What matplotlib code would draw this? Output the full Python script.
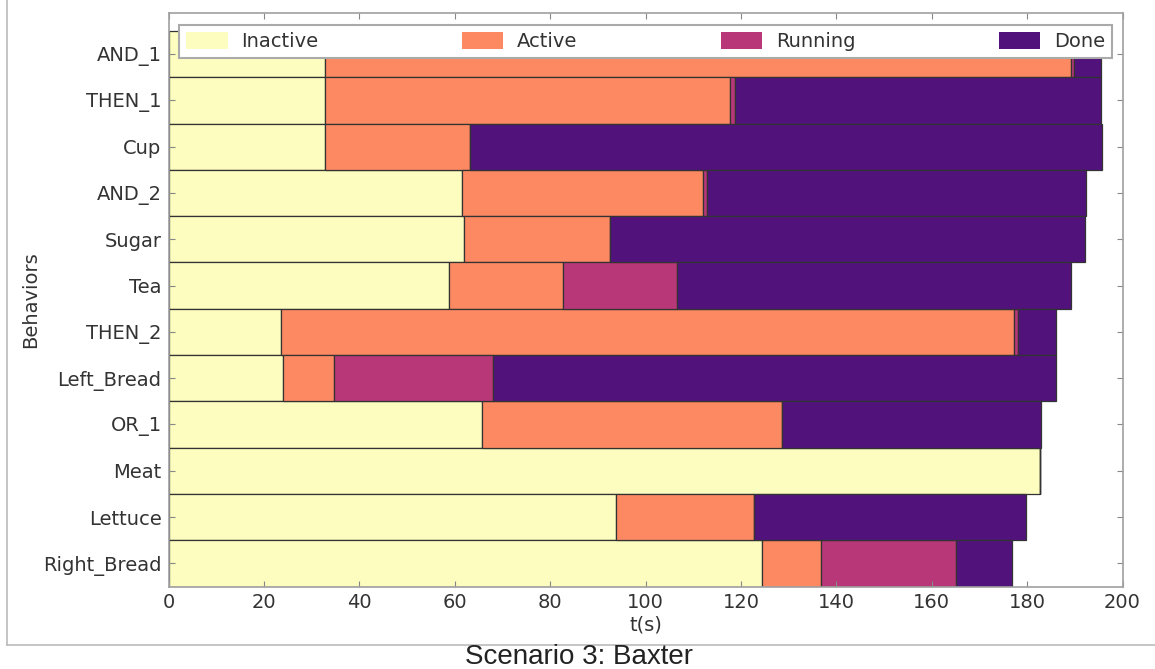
import matplotlib
matplotlib.use("Agg")
import matplotlib.pyplot as plt
from matplotlib.lines import Line2D
import numpy as np

behaviors = ["AND_1", "THEN_1", "Cup", "AND_2", "Sugar", "Tea", "THEN_2",
             "Left_Bread", "OR_1", "Meat", "Lettuce", "Right_Bread"]
states = ["Inactive", "Active", "Running", "Done"]
inactive = [32.8, 32.8, 32.8, 61.5, 61.9, 58.8, 23.5, 24.1, 65.8, 182.8, 93.8, 124.5]
active = [156.4, 84.9, 30.5, 50.6, 30.7, 24.0, 153.8, 10.6, 62.9, 0.0, 29.0, 12.3]
running = [0.6, 1.0, 0.0, 0.7, 0.0, 23.7, 0.7, 33.4, 0.0, 0.0, 0.0, 28.3]
done = [5.6, 76.7, 132.3, 79.5, 99.6, 82.7, 8.0, 117.9, 54.3, 0.0, 56.9, 11.7]
colors = ["#fcfdbf", "#fc8961", "#b73779", "#51127c"]
xticks = [0, 20, 40, 60, 80, 100, 120, 140, 160, 180, 200]

fig = plt.figure(figsize=(11.55, 6.69), dpi=100)
ax = fig.add_axes([168.5 / 1155, 1 - 586.5 / 669, 954 / 1155, 574 / 669])

n = len(behaviors)
ypos = np.arange(n)[::-1]
left = np.zeros(n)
for name, vals, col in zip(states, [inactive, active, running, done], colors):
    vals = np.array(vals)
    ax.barh(ypos, vals, left=left, height=1.0, color=col, edgecolor="#333333",
            linewidth=0.9, label=name)
    left = left + vals

ax.set_xlim(0, 200)
ax.set_ylim(-0.5, 11.9)
ax.set_xticks(xticks)
ax.set_yticks(ypos)
ax.set_yticklabels(behaviors)
ax.tick_params(direction="in", length=4, width=0.8, color="#888888",
               labelsize=14, labelcolor="#333333", top=True, right=True, pad=5)
for sp in ax.spines.values():
    sp.set_color("#a0a0a0")
    sp.set_linewidth(1.2)
ax.set_xlabel("t(s)", fontsize=14, color="#333333", labelpad=2)
ax.set_ylabel("Behaviors", fontsize=14, color="#333333", labelpad=2)

leg = ax.legend(loc="lower left", bbox_to_anchor=(0.011, 0.9207, 0.978, 0.0627),
                mode="expand", ncol=4, borderaxespad=0, fontsize=14,
                handlelength=2.15, handleheight=0.9, fancybox=False,
                framealpha=1, edgecolor="#aaaaaa", borderpad=0.35, handletextpad=0.7)
leg.get_frame().set_linewidth(1.5)
for t in leg.get_texts():
    t.set_color("#333333")
for h in leg.legend_handles:
    h.set_linewidth(0)

fig.add_artist(Line2D([7 / 1155, 7 / 1155], [1 - 645 / 669, 1.0],
                      transform=fig.transFigure, color="#bbbbbb", linewidth=1.2))
fig.add_artist(Line2D([7 / 1155, 1.0], [1 - 645 / 669, 1 - 645 / 669],
                      transform=fig.transFigure, color="#bbbbbb", linewidth=1.2))
fig.text(579 / 1155, 1 - 657 / 669, "Scenario 3: Baxter", ha="center", va="center",
         fontsize=20, family=["Liberation Sans", "DejaVu Sans"], color="#222222")

fig.savefig("out.png", dpi=100)
